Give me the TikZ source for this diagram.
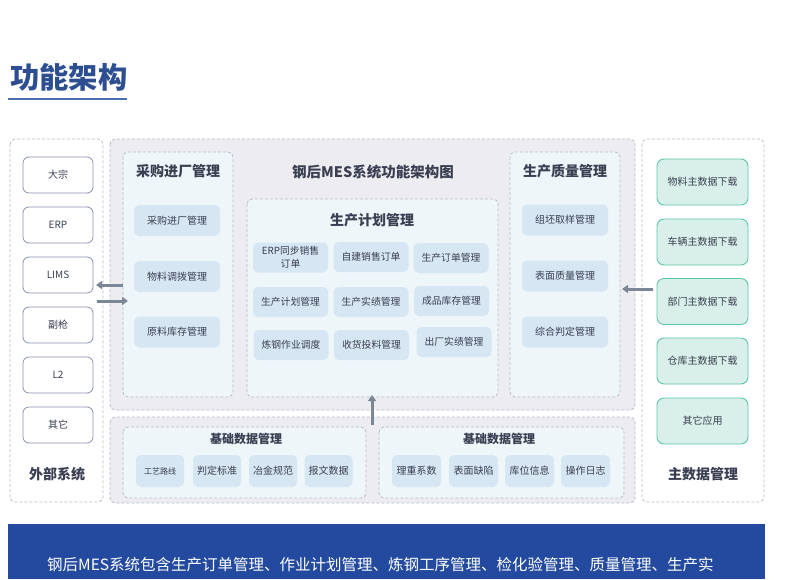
\documentclass[tikz,border=0pt]{standalone}
\usepackage{fontspec}
\setmainfont{Noto Sans CJK SC}
\usetikzlibrary{arrows.meta}
\definecolor{txt}{HTML}{3A3F52}
\definecolor{ttl}{HTML}{2D4F92}
\definecolor{uline}{HTML}{4A6DB0}
\definecolor{dash}{HTML}{B9BCC6}
\definecolor{graybg}{HTML}{EDEDF1}
\definecolor{panelbg}{HTML}{EEF6FA}
\definecolor{itembg}{HTML}{D6E6F2}
\definecolor{extbd}{HTML}{8A93B0}
\definecolor{mdbg}{HTML}{D9EFE9}
\definecolor{mdbd}{HTML}{5CC6A9}
\definecolor{arr}{HTML}{7B8794}
\definecolor{band}{HTML}{234A9E}
\tikzset{
  dbox/.style={draw=dash, line width=0.8pt, dash pattern=on 3pt off 2pt, rounded corners=5pt},
  outerbox/.style={dbox, fill=white},
  graybox/.style={dbox, fill=graybg},
  panel/.style={dbox, fill=panelbg},
  item/.style={fill=itembg, rounded corners=5pt, text=txt, font=\fontsize{10}{11}\selectfont, align=center, inner sep=1pt},
  extnode/.style={draw=extbd, line width=0.8pt, fill=white, rounded corners=6pt, text=txt, font=\fontsize{10}{11}\selectfont, minimum width=70pt, minimum height=36pt},
  mdnode/.style={draw=mdbd, line width=0.9pt, fill=mdbg, rounded corners=7pt, text=txt, font=\fontsize{10}{11}\selectfont, minimum width=91pt, minimum height=46pt},
  ptitle/.style={text=txt, font=\fontsize{14}{15}\selectfont\bfseries},
  flowarrow/.style={draw=arr, line width=3pt, -{Triangle[length=6pt,width=8pt]}},
}
\begin{document}
\begin{tikzpicture}[x=1pt,y=-1pt]
\useasboundingbox (0,0) rectangle (806,579);
% title
\node[text=ttl, font=\fontsize{29.3}{31}\selectfont\bfseries, anchor=west, inner sep=0] (maintitle) at (10,77) {功能架构};
\draw[uline, line width=2pt] (8,99) -- (127,99);
% outer boxes
\draw[outerbox] (10,139) rectangle (103,502);
\draw[outerbox] (642,139) rectangle (764,502);
\draw[graybox] (110,139) rectangle (635,410);
\draw[graybox] (110,417) rectangle (635,503);
% external systems
\node[extnode] (e1) at (58,175) {大宗};
\node[extnode] (e2) at (58,225) {ERP};
\node[extnode] (e3) at (58,275) {LIMS};
\node[extnode] (e4) at (58,325) {副枪};
\node[extnode] (e5) at (58,375) {L2};
\node[extnode] (e6) at (58,425) {其它};
\node[ptitle] (extlabel) at (57,474) {外部系统};
% master data
\node[mdnode] (m1) at (702.5,182) {物料主数据下载};
\node[mdnode] (m2) at (702.5,242) {车辆主数据下载};
\node[mdnode] (m3) at (702.5,301.5) {部门主数据下载};
\node[mdnode] (m4) at (702.5,361) {仓库主数据下载};
\node[mdnode] (m5) at (702.5,421) {其它应用};
\node[ptitle] (mdlabel) at (703,474) {主数据管理};
% purchase panel
\draw[panel] (123,152) rectangle (233,397);
\coordinate (purW) at (123,285);
\coordinate (purW2) at (128,301);
\node[ptitle] (purtitle) at (178,171) {采购进厂管理};
\node[item, minimum width=86pt, minimum height=31pt] (p1) at (177,220.5) {采购进厂管理};
\node[item, minimum width=86pt, minimum height=31pt] (p2) at (177,276.5) {物料调拨管理};
\node[item, minimum width=86pt, minimum height=31pt] (p3) at (177,332) {原料库存管理};
% center title
\node[text=txt, font=\fontsize{14.5}{16}\selectfont\bfseries] (systitle) at (373,172) {钢后MES系统功能架构图};
% plan panel
\draw[panel] (247,199) rectangle (498,397);
\coordinate (planS) at (372,395);
\node[ptitle] (plantitle) at (372,220) {生产计划管理};
\foreach \n/\x/\y/\t in {a1/290.5/257.5/{ERP同步销售\\订单}, a2/371/257/自建销售订单, a3/451/258/生产订单管理,
  b1/290.5/302/生产计划管理, b2/371/302/生产实绩管理, b3/451.5/301/成品库存管理,
  c1/291/345/炼钢作业调度, c2/371.5/345/收货投料管理, c3/454/342/出厂实绩管理}
  \node[item, minimum width=75pt, minimum height=30pt, font=\fontsize{9.8}{13}\selectfont] (\n) at (\x,\y) {\t};
% quality panel
\draw[panel] (510,152) rectangle (620,397);
\coordinate (qualE) at (622,289);
\node[ptitle] (qualtitle) at (565,171) {生产质量管理};
\node[item, minimum width=86pt, minimum height=31pt] (q1) at (565,220) {组坯取样管理};
\node[item, minimum width=86pt, minimum height=31pt] (q2) at (565,276) {表面质量管理};
\node[item, minimum width=86pt, minimum height=31pt] (q3) at (565,332) {综合判定管理};
% base data panels
\draw[panel] (123,427) rectangle (366,498);
\draw[panel] (379,427) rectangle (624,498);
\coordinate (baseN) at (372,425);
\node[text=txt, font=\fontsize{12}{13}\selectfont\bfseries] (bt1) at (246,439) {基础数据管理};
\node[text=txt, font=\fontsize{12}{13}\selectfont\bfseries] (bt2) at (499,439) {基础数据管理};
\node[item, minimum width=48pt, minimum height=32pt, font=\fontsize{8}{9}\selectfont] (d1) at (160,471) {工艺路线};
\node[item, minimum width=48pt, minimum height=32pt] (d2) at (217,471) {判定标准};
\node[item, minimum width=48pt, minimum height=32pt] (d3) at (273,471) {冶金规范};
\node[item, minimum width=48pt, minimum height=32pt] (d4) at (328.5,471) {报文数据};
\node[item, minimum width=49pt, minimum height=32pt] (f1) at (416.5,471) {理重系数};
\node[item, minimum width=49pt, minimum height=32pt] (f2) at (473.5,471) {表面缺陷};
\node[item, minimum width=49pt, minimum height=32pt] (f3) at (529.5,471) {库位信息};
\node[item, minimum width=49pt, minimum height=32pt] (f4) at (585.5,471) {操作日志};
% arrows
\coordinate (extE) at (96,285);
\coordinate (extE2) at (97,301);
\coordinate (mdW) at (653,289);
\draw[flowarrow] (purW) -- (extE);
\draw[flowarrow] (extE2) -- (purW2);
\draw[flowarrow] (mdW) -- (qualE);
\draw[flowarrow] (baseN) -- (planS);
% bottom band
\fill[band] (8,524) rectangle (765,579);
\node[text=white, anchor=west, inner sep=0, font=\fontsize{15.5}{16}\selectfont] (bandtext) at (47,565) {钢后MES系统包含生产订单管理、作业计划管理、炼钢工序管理、检化验管理、质量管理、生产实};
\end{tikzpicture}
\end{document}
